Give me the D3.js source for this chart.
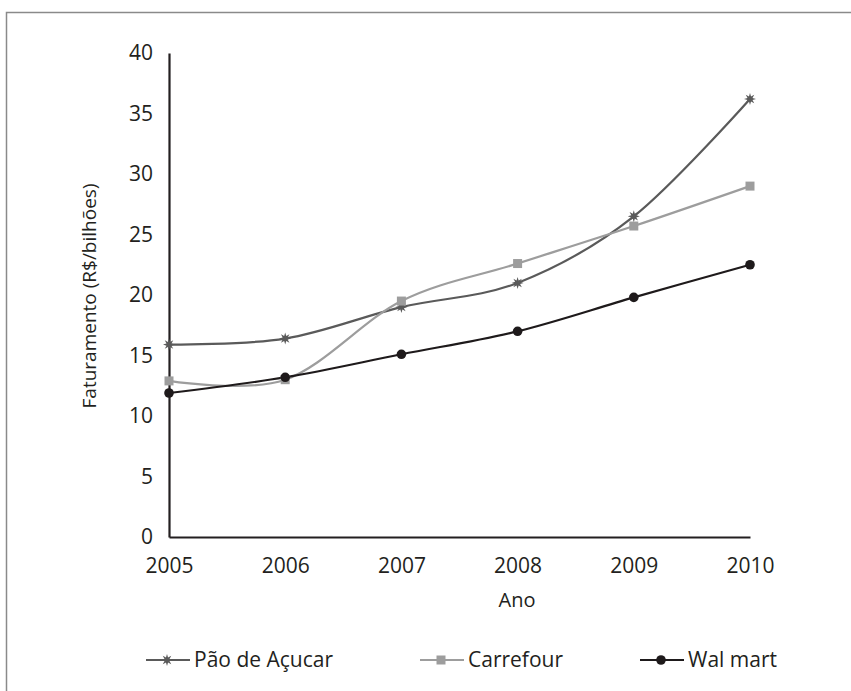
<!DOCTYPE html>
<html>
<head>
<meta charset="utf-8">
<script src="https://cdn.jsdelivr.net/npm/d3@7"></script>
<style>
  body { margin: 0; background: #fff; }
  text { font-family: "Open Sans", "Noto Sans", sans-serif; fill: #231f20; }
</style>
</head>
<body>
<script>
// chart size
var w = 851;
var h = 691;

// plot area
var pdL = 169;
var pdR = 101;
var pdT = 53;
var pdB = 154;

// data
var years = [2005, 2006, 2007, 2008, 2009, 2010];
var paoDeAcucar = [15.9, 16.4, 19.0, 21.0, 26.5, 36.2];
var carrefour = [12.9, 13.0, 19.5, 22.6, 25.7, 29.0];
var walMart = [11.9, 13.2, 15.1, 17.0, 19.8, 22.5];
var yTicks = [0, 5, 10, 15, 20, 25, 30, 35, 40];

var series = [
  { name: "Pão de Açucar", vals: paoDeAcucar, col: "#5a5a5a", mark: "star" },
  { name: "Carrefour", vals: carrefour, col: "#9d9d9d", mark: "square" },
  { name: "Wal mart", vals: walMart, col: "#1e1a1b", mark: "circle" }
];

var fs = 21;

var svg = d3.select("body").append("svg")
  .attr("width", w)
  .attr("height", h);

// outer frame (cut at right/bottom)
svg.append("path")
  .attr("d", "M6.5," + h + "V12.5H" + w)
  .attr("fill", "none")
  .attr("stroke", "#8a8a8a")
  .attr("stroke-width", 1.5);

// scales
var scaleX = d3.scalePoint()
  .domain(years)
  .range([pdL, w - pdR]);

var scaleY = d3.scaleLinear()
  .domain([0, 40])
  .range([h - pdB, pdT]);

// axes
var axisX = d3.axisBottom(scaleX).tickSize(0).tickPadding(21);
var axisY = d3.axisLeft(scaleY).tickValues(yTicks).tickSize(0).tickPadding(16);

var gx = svg.append("g")
  .attr("transform", "translate(0," + (h - pdB) + ")")
  .call(axisX);
var gy = svg.append("g")
  .attr("transform", "translate(" + pdL + ",0)")
  .call(axisY);

[gx, gy].forEach(function(g) {
  g.select(".domain").attr("stroke", "#231f20").attr("stroke-width", 2.2);
  g.selectAll("text").attr("font-size", fs).attr("fill", "#231f20")
    .style("font-family", "'Open Sans', 'Noto Sans', sans-serif");
});
gx.selectAll("text").attr("dy", "0.71em");

// axis titles
svg.append("text")
  .text("Ano")
  .attr("x", 517)
  .attr("y", 607)
  .attr("text-anchor", "middle")
  .attr("font-size", 20);

svg.append("text")
  .text("Faturamento (R$/bilhões)")
  .attr("transform", "translate(96," + 296 + ") rotate(-90)")
  .attr("text-anchor", "middle")
  .attr("font-size", 19);

// marker helper
var starPath = function(r) {
  var pts = [];
  for (var i = 0; i < 16; i++) {
    var a = i * Math.PI / 8 - Math.PI / 2;
    var rr = (i % 2 === 0) ? r : r * 0.45;
    pts.push([rr * Math.cos(a), rr * Math.sin(a)]);
  }
  return "M" + pts.join("L") + "Z";
};

var drawMark = function(g, kind, col, x, y) {
  if (kind === "star") {
    g.append("path").attr("d", starPath(6))
      .attr("transform", "translate(" + x + "," + y + ")")
      .attr("fill", col);
  } else if (kind === "square") {
    g.append("rect")
      .attr("x", x - 4.5).attr("y", y - 4.5)
      .attr("width", 9).attr("height", 9)
      .attr("fill", col);
  } else {
    g.append("circle")
      .attr("cx", x).attr("cy", y).attr("r", 4.8)
      .attr("fill", col);
  }
};

var line = d3.line()
  .x(function(d, i) { return scaleX(years[i]); })
  .y(function(d) { return scaleY(d); })
  .curve(d3.curveCatmullRom.alpha(0));

var plot = svg.append("g");
series.forEach(function(s) {
  plot.append("path")
    .attr("d", line(s.vals))
    .attr("fill", "none")
    .attr("stroke", s.col)
    .attr("stroke-width", 2.2);
});
series.forEach(function(s) {
  s.vals.forEach(function(v, i) {
    drawMark(plot, s.mark, s.col, scaleX(years[i]), scaleY(v));
  });
});

// legend
var legX = [146, 420, 640];
var legY = 660;
series.forEach(function(s, i) {
  var lg = svg.append("g");
  lg.append("line")
    .attr("x1", legX[i]).attr("x2", legX[i] + 44)
    .attr("y1", legY).attr("y2", legY)
    .attr("stroke", s.col).attr("stroke-width", 2.2);
  drawMark(lg, s.mark, s.col, legX[i] + 21, legY);
  lg.append("text")
    .text(s.name)
    .attr("x", legX[i] + 48)
    .attr("y", legY)
    .attr("dy", "0.35em")
    .attr("font-size", fs);
});
</script>
</body>
</html>
